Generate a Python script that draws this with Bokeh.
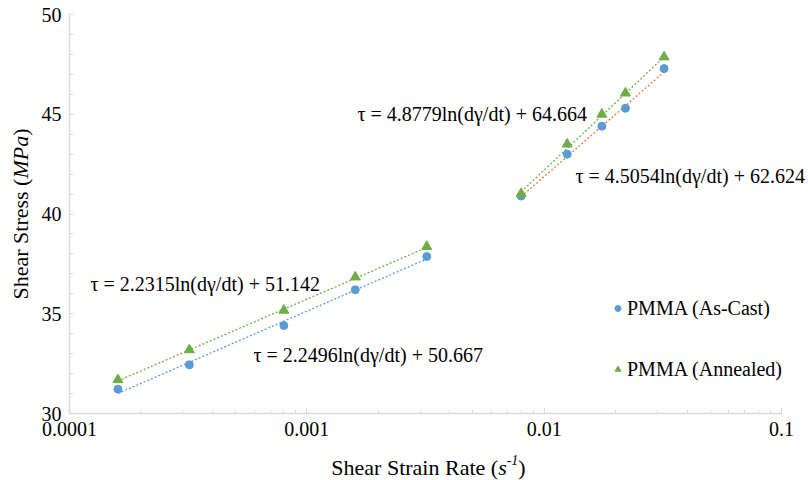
import math
from bokeh.plotting import figure
from bokeh.models import Range1d, FixedTicker, CustomJSTickFormatter, Label, Legend, LegendItem
from bokeh.embed import file_html
from bokeh.resources import INLINE

# ---------------- data ----------------
strain_rate_low = [0.00016, 0.00032, 0.0008, 0.0016, 0.0032]
strain_rate_high = [0.008, 0.0125, 0.0175, 0.022, 0.032]
as_cast_low = [31.22, 32.44, 34.41, 36.2, 37.87]
as_cast_high = [40.9, 43.0, 44.4, 45.3, 47.29]
annealed_low = [31.69, 33.19, 35.17, 36.84, 38.37]
annealed_high = [41.02, 43.5, 45.0, 46.06, 47.87]

# fitted trend lines: tau = a*ln(rate) + b
fit_as_cast_low = (2.2496, 50.667)
fit_annealed_low = (2.2315, 51.142)
fit_as_cast_high = (4.5054, 62.624)
fit_annealed_high = (4.8779, 64.664)

eq_as_cast_low = "τ = 2.2496ln(dγ/dt) + 50.667"
eq_annealed_low = "τ = 2.2315ln(dγ/dt) + 51.142"
eq_as_cast_high = "τ = 4.5054ln(dγ/dt) + 62.624"
eq_annealed_high = "τ = 4.8779ln(dγ/dt) + 64.664"

series_names = ["PMMA (As-Cast)", "PMMA (Annealed)"]

x_tick_values = [0.0001, 0.001, 0.01, 0.1]
x_tick_labels = ["0.0001", "0.001", "0.01", "0.1"]
y_tick_values = [30, 35, 40, 45, 50]

# ---------------- style / layout ----------------
FONT = "Liberation Serif"
BLUE = "#5b9bd5"
GREEN = "#70ad47"
ORANGE = "#ed7d31"
AXIS_GREY = "#d9d9d9"
TEXT = "#000000"

W, H = 808, 480
FL, FR, FT, FB = 69, 781, 14, 413  # axis box edges in canvas pixels

# The frame covers the whole canvas; the axes are pinned (fixed_location) at the
# axis box so that the titles drawn outside the axis box are not clipped.
dec_px = (FR - FL) / (math.log10(x_tick_values[-1]) - math.log10(x_tick_values[0]))
x_lo = 10 ** (math.log10(x_tick_values[0]) - FL / dec_px)
x_hi = 10 ** (math.log10(x_tick_values[-1]) + (W - FR) / dec_px)
y_px = (FB - FT) / (y_tick_values[-1] - y_tick_values[0])
y_lo = y_tick_values[0] - (H - FB) / y_px
y_hi = y_tick_values[-1] + FT / y_px

p = figure(width=W, height=H, x_axis_type="log",
           x_range=Range1d(x_lo, x_hi), y_range=Range1d(y_lo, y_hi),
           output_backend="svg", toolbar_location=None,
           min_border_left=0, min_border_right=0, min_border_top=0, min_border_bottom=0)
p.outline_line_color = None
p.xgrid.visible = False
p.ygrid.visible = False
p.background_fill_color = "white"
p.border_fill_color = "white"

# x axis
minor_x = [m * d for d in x_tick_values[:-1] for m in range(2, 10)]
p.xaxis.ticker = FixedTicker(ticks=x_tick_values, minor_ticks=minor_x)
p.xaxis.formatter = CustomJSTickFormatter(args=dict(vals=x_tick_values, labs=x_tick_labels), code="""
const i = vals.findIndex(v => Math.abs(Math.log10(v) - Math.log10(tick)) < 1e-6);
return i >= 0 ? labs[i] : "";
""")
p.xaxis.fixed_location = y_tick_values[0]
p.xaxis.bounds = (x_tick_values[0], x_tick_values[-1])
# y axis
p.yaxis.ticker = FixedTicker(ticks=y_tick_values,
                             minor_ticks=list(range(y_tick_values[0], y_tick_values[-1] + 1)))
p.yaxis.fixed_location = x_tick_values[0]
p.yaxis.bounds = (y_tick_values[0], y_tick_values[-1])

for ax in (p.xaxis[0], p.yaxis[0]):
    ax.axis_line_color = AXIS_GREY
    ax.axis_line_width = 1.5
    ax.major_tick_line_color = AXIS_GREY
    ax.minor_tick_line_color = AXIS_GREY
    ax.major_tick_out = 0
    ax.minor_tick_out = 0
    ax.major_label_text_font = FONT
    ax.major_label_text_font_size = "20px"
    ax.major_label_text_color = TEXT
    ax.major_label_standoff = 8
p.xaxis.major_tick_in = 6
p.xaxis.minor_tick_in = 4
p.yaxis.major_tick_in = 4
p.yaxis.minor_tick_in = 4

# ---------------- trend lines ----------------
def trend(xs, fit):
    a, b = fit
    ends = [xs[0], xs[-1]]
    return ends, [a * math.log(x) + b for x in ends]

for xs, fit, col in [(strain_rate_low, fit_as_cast_low, BLUE),
                     (strain_rate_low, fit_annealed_low, GREEN),
                     (strain_rate_high, fit_as_cast_high, ORANGE),
                     (strain_rate_high, fit_annealed_high, GREEN)]:
    tx, ty = trend(xs, fit)
    p.line(tx, ty, line_color=col, line_width=1.3, line_dash="2 2")

# ---------------- points ----------------
r_cast = p.scatter(strain_rate_low + strain_rate_high, as_cast_low + as_cast_high,
                   marker="circle", size=8, fill_color=BLUE, line_color=BLUE)
r_ann = p.scatter(strain_rate_low + strain_rate_high, annealed_low + annealed_high,
                  marker="triangle", size=10, fill_color=GREEN, line_color=GREEN)

legend = Legend(items=[LegendItem(label=series_names[0], renderers=[r_cast]),
                       LegendItem(label=series_names[1], renderers=[r_ann])],
                location=(610, 99), orientation="vertical",
                label_text_font=FONT, label_text_font_size="20px", label_text_color=TEXT,
                glyph_width=15, glyph_height=24, label_height=24, label_standoff=2,
                spacing=37, padding=0, margin=0,
                border_line_color=None, background_fill_alpha=0)
p.add_layout(legend, "center")

# ---------------- text labels (canvas pixel positions, y measured down) ----------------
def add_label(text, cx, cy_base, size="20px", style="normal", angle=0.0):
    p.add_layout(Label(x=cx, y=H - cy_base, x_units="screen", y_units="screen",
                       text=text, text_font=FONT, text_font_size=size,
                       text_font_style=style, text_color=TEXT, angle=angle,
                       text_align="left", text_baseline="alphabetic"))

add_label(eq_annealed_low, 90, 283)
add_label(eq_as_cast_low, 253, 354)
add_label(eq_annealed_high, 357, 113)
add_label(eq_as_cast_high, 575, 175)

# ---------------- axis titles built from styled pieces ----------------
REG = {' ': 250, '(': 333, ')': 333, 'S': 556, 'h': 500, 'e': 444, 'a': 444, 'r': 333,
       't': 278, 'i': 278, 'n': 500, 'R': 667, 's': 389, '-': 333, '1': 500}
ITA = {'M': 833, 'P': 611, 'a': 500, 's': 389, '-': 333, '1': 500}

def tw(s, size, italic=False):
    tab = ITA if italic else REG
    return sum(tab.get(c, 500) for c in s) * size / 1000.0

TS = 22
SUP = 14
# x title: "Shear Strain Rate (s^-1)"
x_parts = [("Shear Strain Rate (", TS, False, 0), ("s", TS, True, 0),
           ("-1", SUP, True, 8), (")", TS, False, 0)]
total = sum(tw(t, s, it) for t, s, it, _ in x_parts)
cx = (FL + FR) / 2 + 3 - total / 2
for t, s, it, rise in x_parts:
    add_label(t, cx, 467 - rise, size=f"{s}px", style="italic" if it else "normal")
    cx += tw(t, s, it)

# y title: "Shear Stress (MPa)" rotated
y_parts = [("Shear Stress (", False), ("MPa", True), (")", False)]
total = sum(tw(t, TS, it) for t, it in y_parts)
cy = (FT + FB) / 2 + total / 2  # canvas y of the start (bottom end)
for t, it in y_parts:
    p.add_layout(Label(x=20, y=H - cy, x_units="screen", y_units="screen",
                       text=t, text_font=FONT, text_font_size=f"{TS}px",
                       text_font_style="italic" if it else "normal", text_color=TEXT,
                       angle=math.pi / 2, text_align="left", text_baseline="alphabetic"))
    cy -= tw(t, TS, it)

open("out.html", "w").write(file_html(p, INLINE))
